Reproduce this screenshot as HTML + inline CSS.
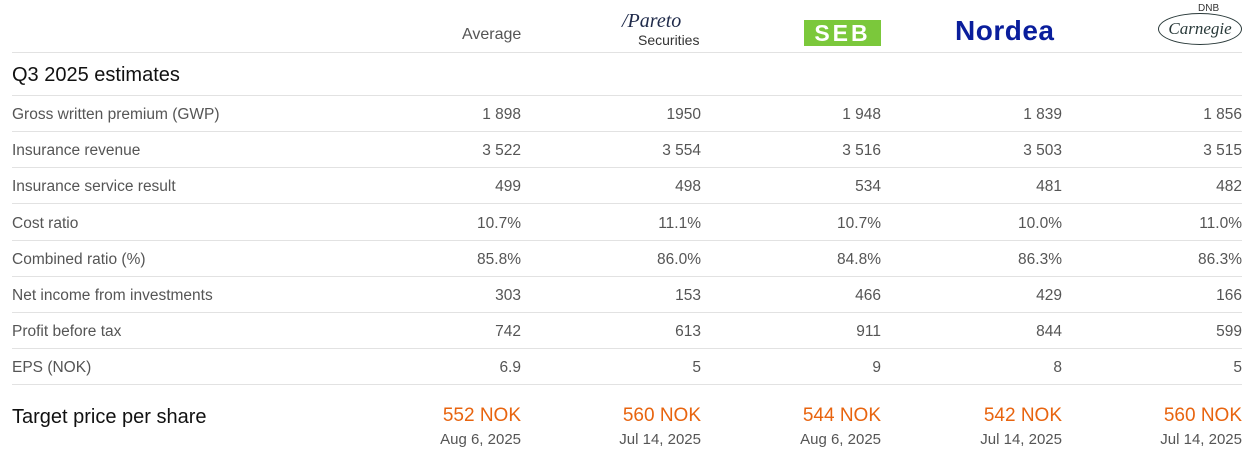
<!DOCTYPE html>
<html><head><style>
body{margin:0;width:1258px;height:472px;background:#fff;font-family:"Liberation Sans",sans-serif;position:relative;overflow:hidden}
.a{position:absolute;white-space:nowrap}
.l{left:12px;color:#555;font-size:15.5px}
.r{text-align:right;color:#555;font-size:15.5px}
.hl{position:absolute;left:12px;width:1230px;height:1px;background:#e2e2e2}
.o{color:#e8640f;font-size:19px}
.d{color:#555;font-size:15px}
</style></head><body>
<div class="a" style="left:462px;top:26px;color:#555;font-size:16px">Average</div>
<div class="a" style="left:622px;top:10px;color:#1f2a4a;font-size:20px;font-family:'Liberation Serif',serif;font-style:italic">/Pareto</div>
<div class="a" style="left:638px;top:32px;color:#333;font-size:14px">Securities</div>
<div class="a" style="left:804px;top:20px;width:77px;height:26px;background:#7bc83b;color:#fff;font-weight:bold;font-size:23px;text-align:center;line-height:26px;letter-spacing:3px">SEB</div>
<div class="a" style="left:955px;top:15px;color:#0a1e9c;font-weight:bold;font-size:28px;letter-spacing:0.5px">Nordea</div>
<div class="a" style="left:1198px;top:3px;color:#333;font-size:10px">DNB</div>
<div class="a" style="left:1158px;top:13px;width:82px;height:30px;border:1.5px solid #2a3a3a;border-radius:50%;text-align:center;font-family:'Liberation Serif',serif;font-style:italic;font-size:17px;line-height:30px;color:#2a3a3a">Carnegie</div>
<div class="hl" style="top:52px"></div>
<div class="a" style="left:12px;top:64px;font-size:20px;color:#111">Q3 2025 estimates</div>
<div class="hl" style="top:95px"></div>
<div id="rows"></div>
<script>
var rows=[["Gross written premium (GWP)","1 898","1950","1 948","1 839","1 856"],
["Insurance revenue","3 522","3 554","3 516","3 503","3 515"],
["Insurance service result","499","498","534","481","482"],
["Cost ratio","10.7%","11.1%","10.7%","10.0%","11.0%"],
["Combined ratio (%)","85.8%","86.0%","84.8%","86.3%","86.3%"],
["Net income from investments","303","153","466","429","166"],
["Profit before tax","742","613","911","844","599"],
["EPS (NOK)","6.9","5","9","8","5"]];
var R=[521,701,881,1062,1242],h="";
rows.forEach(function(r,i){var y=106+i*36.2;
h+='<div class="a l" style="top:'+y+'px">'+r[0]+'</div>';
for(var j=0;j<5;j++)h+='<div class="a r" style="right:'+(1258-R[j])+'px;top:'+y+'px">'+r[j+1]+'</div>';
h+='<div class="hl" style="top:'+(131+i*36.2)+'px"></div>';});
h+='<div class="a" style="left:12px;top:406px;font-size:20px;color:#111">Target price per share</div>';
var t=[["552 NOK","Aug 6, 2025"],["560 NOK","Jul 14, 2025"],["544 NOK","Aug 6, 2025"],["542 NOK","Jul 14, 2025"],["560 NOK","Jul 14, 2025"]];
for(var j=0;j<5;j++){h+='<div class="a o" style="right:'+(1258-R[j])+'px;top:405px">'+t[j][0]+'</div>';
h+='<div class="a d" style="right:'+(1258-R[j])+'px;top:431px">'+t[j][1]+'</div>';}
document.getElementById('rows').innerHTML=h;
</script>
</body></html>
